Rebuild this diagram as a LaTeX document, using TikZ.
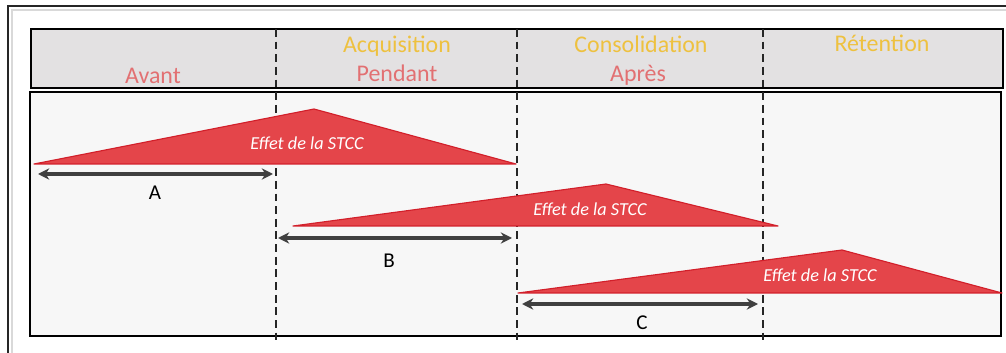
\documentclass[tikz,border=0pt]{standalone}
\usepackage{fontspec}
\setmainfont{Carlito}
\usetikzlibrary{arrows.meta}
\definecolor{hdrgray}{HTML}{E3E1E2}
\definecolor{panelgray}{HTML}{F7F7F7}
\definecolor{wedgered}{HTML}{E4454A}
\definecolor{edgered}{HTML}{D21F2A}
\definecolor{phasered}{HTML}{E27072}
\definecolor{phaseyellow}{HTML}{EEC13F}
\definecolor{arrowgray}{HTML}{404040}
\begin{document}
\begin{tikzpicture}[x=0.025cm,y=-0.025cm,
  phase/.style={font=\fontsize{17}{20}\selectfont,anchor=base,inner sep=0pt},
  wedge/.style={fill=wedgered,draw=edgered,line width=0.8pt,line join=round},
  effet/.style={font=\fontsize{13}{15}\selectfont\itshape,text=white,anchor=base,inner sep=0pt},
  span/.style={{Stealth[length=8pt,width=8pt]}-{Stealth[length=8pt,width=8pt]},draw=arrowgray,line width=2.6pt},
  lbl/.style={font=\fontsize{15}{17}\selectfont,anchor=base,inner sep=0pt},
  cut/.style={draw=black!85,line width=1.4pt,dash pattern=on 5.5pt off 3.5pt}]
  \useasboundingbox (0,0) rectangle (1006,353);
  % outer frame with its shadow
  \draw[black!15,line width=2pt] (12,360) |- (1010,10);
  \draw[black!85,line width=1pt] (8,360) |- (1010,6);
  % header and panel
  \draw[fill=hdrgray,line width=1pt] (31,29) rectangle (1003,88);
  \draw[fill=panelgray,line width=1pt] (30,92) rectangle (1001,336);
  \foreach \x in {276,517,763}
    \draw[cut] (\x,29) -- (\x,341);
  % phase names
  \node[phase,text=phasered] (avant) at (153,84) {Avant};
  \node[phase,text=phaseyellow] (acq) at (397,53) {Acquisition};
  \node[phase,text=phasered] (pendant) at (397,82) {Pendant};
  \node[phase,text=phaseyellow] (consol) at (641,53) {Consolidation};
  \node[phase,text=phasered] (apres) at (638,82) {Après};
  \node[phase,text=phaseyellow] (reten) at (882,52) {Rétention};
  % effect wedges
  \draw[wedge] (34,164) -- (314,109) -- (516,164) -- cycle;
  \draw[wedge] (293,226) -- (606,184) -- (778,226) -- cycle;
  \draw[wedge] (518,293) -- (842,250) -- (1002,293) -- cycle;
  \node[effet] (eff1) at (307,150) {Effet de la STCC};
  \node[effet] (eff2) at (590,216) {Effet de la STCC};
  \node[effet] (eff3) at (820,282) {Effet de la STCC};
  % spans
  \coordinate (aL) at (38,174);
  \coordinate (aR) at (273,174);
  \coordinate (bL) at (278,238);
  \coordinate (bR) at (512,238);
  \coordinate (cL) at (522,304);
  \coordinate (cR) at (758,304);
  \draw[span] (aL) -- (aR);
  \draw[span] (bL) -- (bR);
  \draw[span] (cL) -- (cR);
  \node[lbl] (lblA) at (155,200) {A};
  \node[lbl] (lblB) at (389,268) {B};
  \node[lbl] (lblC) at (642,329) {C};
\end{tikzpicture}
\end{document}
